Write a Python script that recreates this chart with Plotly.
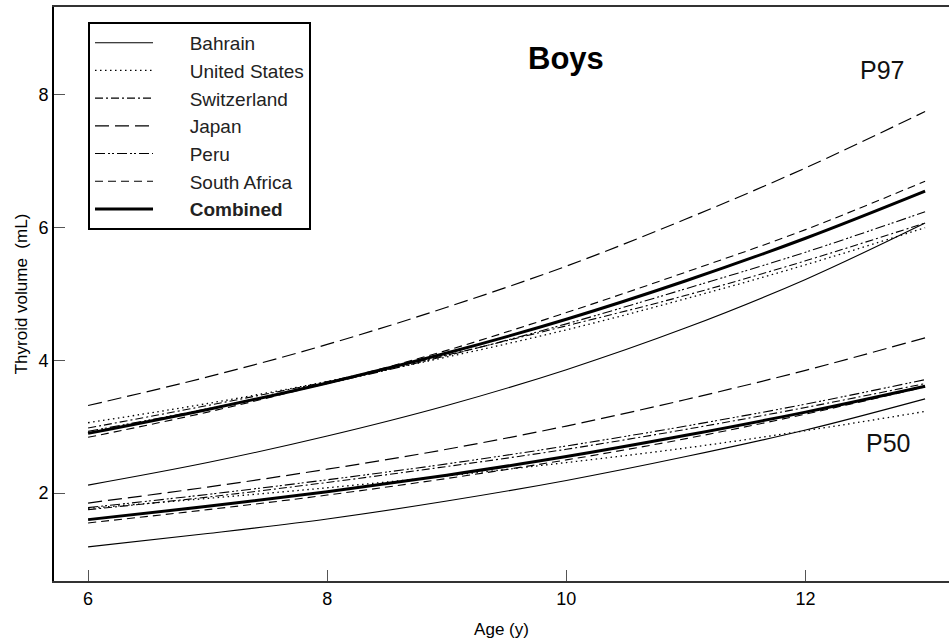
import plotly.graph_objects as go

ages = [6, 7, 8, 9, 10, 11, 12, 13]

# P97 curves (mL)
p97 = {
    "Bahrain":       [2.12, 2.46, 2.86, 3.32, 3.86, 4.49, 5.22, 6.07],
    "United States": [3.06, 3.35, 3.68, 4.05, 4.46, 4.93, 5.44, 6.00],
    "Switzerland":   [2.98, 3.32, 3.68, 4.08, 4.52, 4.98, 5.50, 6.07],
    "Japan":         [3.32, 3.75, 4.24, 4.80, 5.42, 6.13, 6.90, 7.75],
    "Peru":          [2.93, 3.27, 3.65, 4.07, 4.55, 5.08, 5.63, 6.24],
    "South Africa":  [2.84, 3.22, 3.66, 4.15, 4.72, 5.33, 5.97, 6.70],
    "Combined":      [2.90, 3.26, 3.66, 4.11, 4.62, 5.20, 5.84, 6.55],
}

# P50 curves (mL)
p50 = {
    "Bahrain":       [1.19, 1.39, 1.61, 1.88, 2.19, 2.55, 2.95, 3.42],
    "United States": [1.77, 1.92, 2.08, 2.26, 2.46, 2.68, 2.94, 3.23],
    "Switzerland":   [1.75, 1.94, 2.16, 2.40, 2.66, 2.96, 3.29, 3.65],
    "Japan":         [1.85, 2.09, 2.36, 2.66, 3.01, 3.41, 3.85, 4.34],
    "Peru":          [1.78, 1.98, 2.20, 2.44, 2.71, 3.01, 3.34, 3.71],
    "South Africa":  [1.55, 1.75, 1.97, 2.22, 2.50, 2.82, 3.19, 3.60],
    "Combined":      [1.60, 1.80, 2.02, 2.27, 2.55, 2.87, 3.22, 3.61],
}

x_ticks = [6, 8, 10, 12]
y_ticks = [2, 4, 6, 8]

styles = {
    "Bahrain":       dict(dash="solid", width=1.1),
    "United States": dict(dash="1.5px,3.5px", width=1.3),
    "Switzerland":   dict(dash="8px,3px,2px,3px", width=1.1),
    "Japan":         dict(dash="14px,6px", width=1.2),
    "Peru":          dict(dash="10px,3px,2px,2px,2px,3px", width=1.1),
    "South Africa":  dict(dash="8px,5px", width=1.1),
    "Combined":      dict(dash="solid", width=3),
}

FONT = "Liberation Sans, Arial, Helvetica, sans-serif"
PAD = "\u00a0" * 6

fig = go.Figure()
for name in p97:
    st = styles[name]
    label = PAD + ("<b>Combined</b>" if name == "Combined" else name)
    fig.add_trace(go.Scatter(
        x=ages, y=p97[name], mode="lines", name=label, legendgroup=name,
        line=dict(color="black", width=st["width"], dash=st["dash"], shape="spline"),
        showlegend=True,
    ))
    fig.add_trace(go.Scatter(
        x=ages, y=p50[name], mode="lines", name=label, legendgroup=name,
        line=dict(color="black", width=st["width"], dash=st["dash"], shape="spline"),
        showlegend=False,
    ))

fig.add_annotation(x=10.0, y=8.55, text="<b>Boys</b>", showarrow=False,
                   font=dict(size=31, color="black", family=FONT))
fig.add_annotation(x=12.64, y=8.38, text="P97", showarrow=False,
                   font=dict(size=25, color="#111", family=FONT))
fig.add_annotation(x=12.69, y=2.76, text="P50", showarrow=False,
                   font=dict(size=25, color="#111", family=FONT))

fig.update_layout(
    width=949, height=642,
    margin=dict(l=54, r=0, t=7, b=61),
    paper_bgcolor="white", plot_bgcolor="white",
    font=dict(family=FONT, color="black"),
    showlegend=True,
    legend=dict(
        x=0.038, y=0.974, xanchor="left", yanchor="top",
        bordercolor="black", borderwidth=2, bgcolor="white",
        font=dict(size=19, family=FONT, color="#222"),
        itemwidth=58, tracegroupgap=0,
        traceorder="normal",
    ),
    xaxis=dict(
        range=[5.715, 13.2], tickvals=x_ticks, ticks="inside", ticklen=11,
        tickcolor="#555", tickwidth=1, showgrid=False, zeroline=False,
        showline=True, linecolor="#333", linewidth=2, mirror=True,
        tickfont=dict(size=18, family=FONT), automargin=False,
        title=dict(text="Age (y)", font=dict(size=17, family=FONT), standoff=16),
    ),
    yaxis=dict(
        range=[0.675, 9.325], tickvals=y_ticks, ticks="inside", ticklen=11,
        tickcolor="#555", tickwidth=1, showgrid=False, zeroline=False,
        showline=True, linecolor="black", linewidth=2,
        tickfont=dict(size=18, family=FONT), automargin=False,
        title=dict(text="Thyroid volume  (mL)", font=dict(size=17, family=FONT), standoff=6),
    ),
)

fig.write_html(
    "out.html",
    config={"displayModeBar": False},
    post_script="document.body.style.margin='0';document.body.style.overflow='hidden';",
)
